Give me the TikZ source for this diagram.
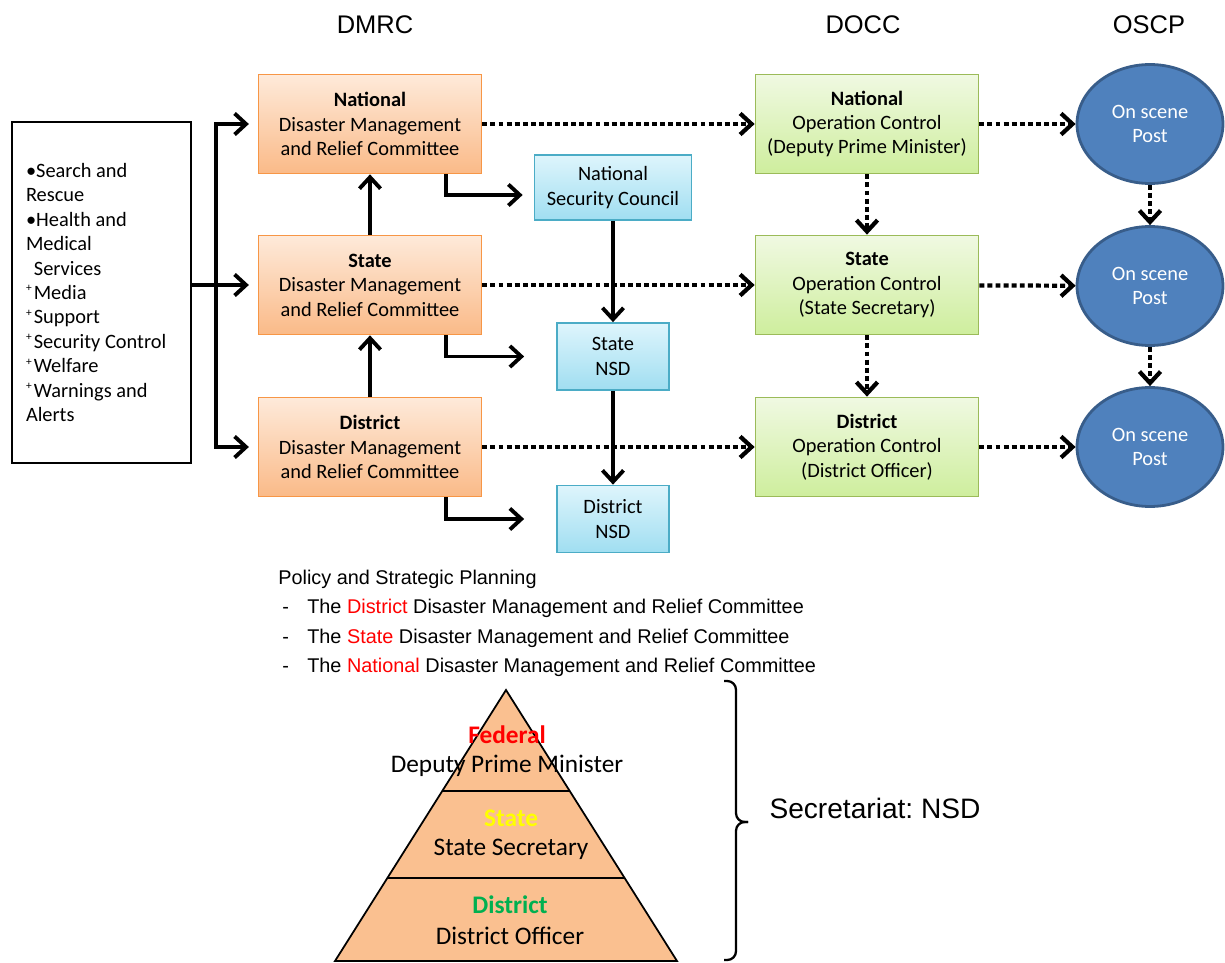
\documentclass[tikz,border=0pt]{standalone}
\usepackage{fontspec}
\setmainfont{Carlito}
\newfontfamily\arialfont{Liberation Sans}
\usepackage{tikz}
\usetikzlibrary{arrows.meta,positioning,shapes.geometric}
\definecolor{orline}{RGB}{247,150,70}
\definecolor{ortop}{RGB}{254,234,218}
\definecolor{orbot}{RGB}{250,186,136}
\definecolor{blline}{RGB}{75,172,198}
\definecolor{bltop}{RGB}{222,245,252}
\definecolor{blbot}{RGB}{160,222,241}
\definecolor{grline}{RGB}{155,187,89}
\definecolor{grtop}{RGB}{240,249,226}
\definecolor{grbot}{RGB}{206,238,157}
\definecolor{postfill}{RGB}{79,129,189}
\definecolor{postline}{RGB}{56,93,138}
\definecolor{pyrfill}{RGB}{250,192,144}
\definecolor{fedred}{RGB}{255,0,0}
\definecolor{styellow}{RGB}{255,255,0}
\definecolor{disgreen}{RGB}{0,176,80}
\newcommand{\plusmark}{\raisebox{0.38em}{\fontsize{6.5}{6.5}\selectfont+}\hspace{1.2pt}}
\frenchspacing

\begin{document}
\begin{tikzpicture}[x=0.02cm,y=-0.02cm,
    font=\fontsize{11.6}{13.9}\selectfont,
    >={Straight Barb[length=6.5pt,width=12pt]},
    head/.style={font=\arialfont\fontsize{14.5}{17}\selectfont},
    plan/.style={font=\arialfont\fontsize{11.3}{13}\selectfont,anchor=base west,inner sep=0pt},
    dmrc/.style={draw=orline,line width=1pt,top color=ortop,bottom color=orbot,
      minimum width=4.46cm,minimum height=1.98cm,align=center},
    docc/.style={dmrc,draw=grline,top color=grtop,bottom color=grbot},
    nsd/.style={draw=blline,line width=1pt,top color=bltop,bottom color=blbot,
      minimum width=2.24cm,minimum height=1.34cm,align=center},
    post/.style={ellipse,draw=postline,line width=1.6pt,fill=postfill,text=white,
      minimum width=2.92cm,minimum height=2.38cm,align=center},
    pyr/.style={font=\fontsize{14.4}{17}\selectfont},
    link/.style={line width=2.2pt,->},
    dotlink/.style={line width=2.4pt,dash pattern=on 2.8pt off 1.8pt,->}]
  \useasboundingbox (0,0) rectangle (1225,963);
  \node[head] (hdmrc) at (375,25) {DMRC};
  \node[head] (hdocc) at (863,25) {DOCC};
  \node[head] (hoscp) at (1149,25) {OSCP};
  \node[draw,line width=1pt,minimum width=3.58cm,minimum height=6.82cm,text width=3.02cm,
    inner xsep=0.28cm,align=flush left] (tasks) at (101.5,292.5)
    {\textbullet Search and\\Rescue\\\textbullet Health and\\Medical\\\hspace*{4.5pt}Services\\
     \plusmark Media\\\plusmark Support\\\plusmark Security Control\\
     \plusmark Welfare\\\plusmark Warnings and\\Alerts};
  \node[dmrc] (natdm) at (370,124) {\textbf{National}\\Disaster Management\\and Relief Committee};
  \node[dmrc] (stdm) at (370,285) {\textbf{State}\\Disaster Management\\and Relief Committee};
  \node[dmrc] (disdm) at (370,447) {\textbf{District}\\Disaster Management\\and Relief Committee};
  \node[nsd,minimum width=3.14cm,minimum height=1.3cm] (nsc) at (613,187.5) {National\\Security Council};
  \node[nsd] (stnsd) at (613,356.5) {State\\NSD};
  \node[nsd] (disnsd) at (613,519) {District\\NSD};
  \node[docc] (natoc) at (867,124) {\textbf{National}\\Operation Control\\(Deputy Prime Minister)};
  \node[docc] (stoc) at (867,285) {\textbf{State}\\Operation Control\\(State Secretary)};
  \node[docc] (disoc) at (867,447) {\textbf{District}\\Operation Control\\(District Officer)};
  \node[post] (natpost) at (1150,124) {On scene\\Post};
  \node[post] (stpost) at (1150,286) {On scene\\Post};
  \node[post] (dispost) at (1150,447) {On scene\\Post};
  \coordinate (split) at (216,285);
  \draw[line width=2.2pt] (tasks.east |- split) -- (split);
  \draw[link,shorten >=5pt] (split) -- (stdm.west);
  \draw[link,shorten >=5pt] (split) |- (natdm.west);
  \draw[link,shorten >=5pt] (split) |- (disdm.west);
  \draw[link] (stdm.north) -- (natdm.south);
  \draw[link] (disdm.north) -- (stdm.south);
  \draw[link] (nsc.south) -- (stnsd.north);
  \draw[link] (stnsd.south) -- (disnsd.north);
  \draw[link] ([xshift=-0.72cm]natdm.south east) |- ([xshift=-0.22cm,yshift=-0.15cm]nsc.west);
  \draw[link] ([xshift=-0.72cm]stdm.south east) |- ([xshift=-0.64cm]stnsd.west);
  \draw[link] ([xshift=-0.72cm]disdm.south east) |- ([xshift=-0.64cm]disnsd.west);
  \path[draw]
    (natdm) edge[dotlink] (natoc)
    (stdm) edge[dotlink] (stoc)
    (disdm) edge[dotlink] (disoc)
    (natoc) edge[dotlink] (natpost)
    (stoc) edge[dotlink] (stpost)
    (disoc) edge[dotlink] (dispost)
    (natoc) edge[dotlink] (stoc)
    (stoc) edge[dotlink] (disoc)
    (natpost) edge[dotlink] (stpost)
    (stpost) edge[dotlink] (dispost);
  \node[plan] (policy) at (278,584.5) {Policy and Strategic Planning};
  \node[plan] (pdis) at (282,613.5) {\makebox[0.5cm][l]{-}The \textcolor{fedred}{District} Disaster Management and Relief Committee};
  \node[plan] (pst) at (282,643) {\makebox[0.5cm][l]{-}The \textcolor{fedred}{State} Disaster Management and Relief Committee};
  \node[plan] (pnat) at (282,672.5) {\makebox[0.5cm][l]{-}The \textcolor{fedred}{National} Disaster Management and Relief Committee};
  \draw[line width=1pt,fill=pyrfill] (506,690) -- (677,961) -- (335,961) -- cycle;
  \draw[line width=1pt] (442.5,791) -- (569.5,791);
  \draw[line width=1pt] (387.8,878) -- (624.2,878);
  \node[pyr,text=fedred] (fed) at (507,735) {\textbf{Federal}};
  \node[pyr] (dpm) at (507,766) {Deputy Prime Minister};
  \node[pyr,text=styellow] (st) at (511,818) {\textbf{State}};
  \node[pyr] (ss) at (511,849) {State Secretary};
  \node[pyr,text=disgreen] (dis) at (510,905) {\textbf{District}};
  \node[pyr] (dof) at (510,936) {District Officer};
  \draw[line width=1.3pt,rounded corners=5pt] (724,681) -- (736,681) -- (736,822) -- (748,822);
  \draw[line width=1.3pt,rounded corners=5pt] (748,822) -- (736,822) -- (736,960) -- (724,960);
  \node[font=\arialfont\fontsize{16}{19}\selectfont] (secr) at (875,808) {Secretariat: NSD};
\end{tikzpicture}
\end{document}
